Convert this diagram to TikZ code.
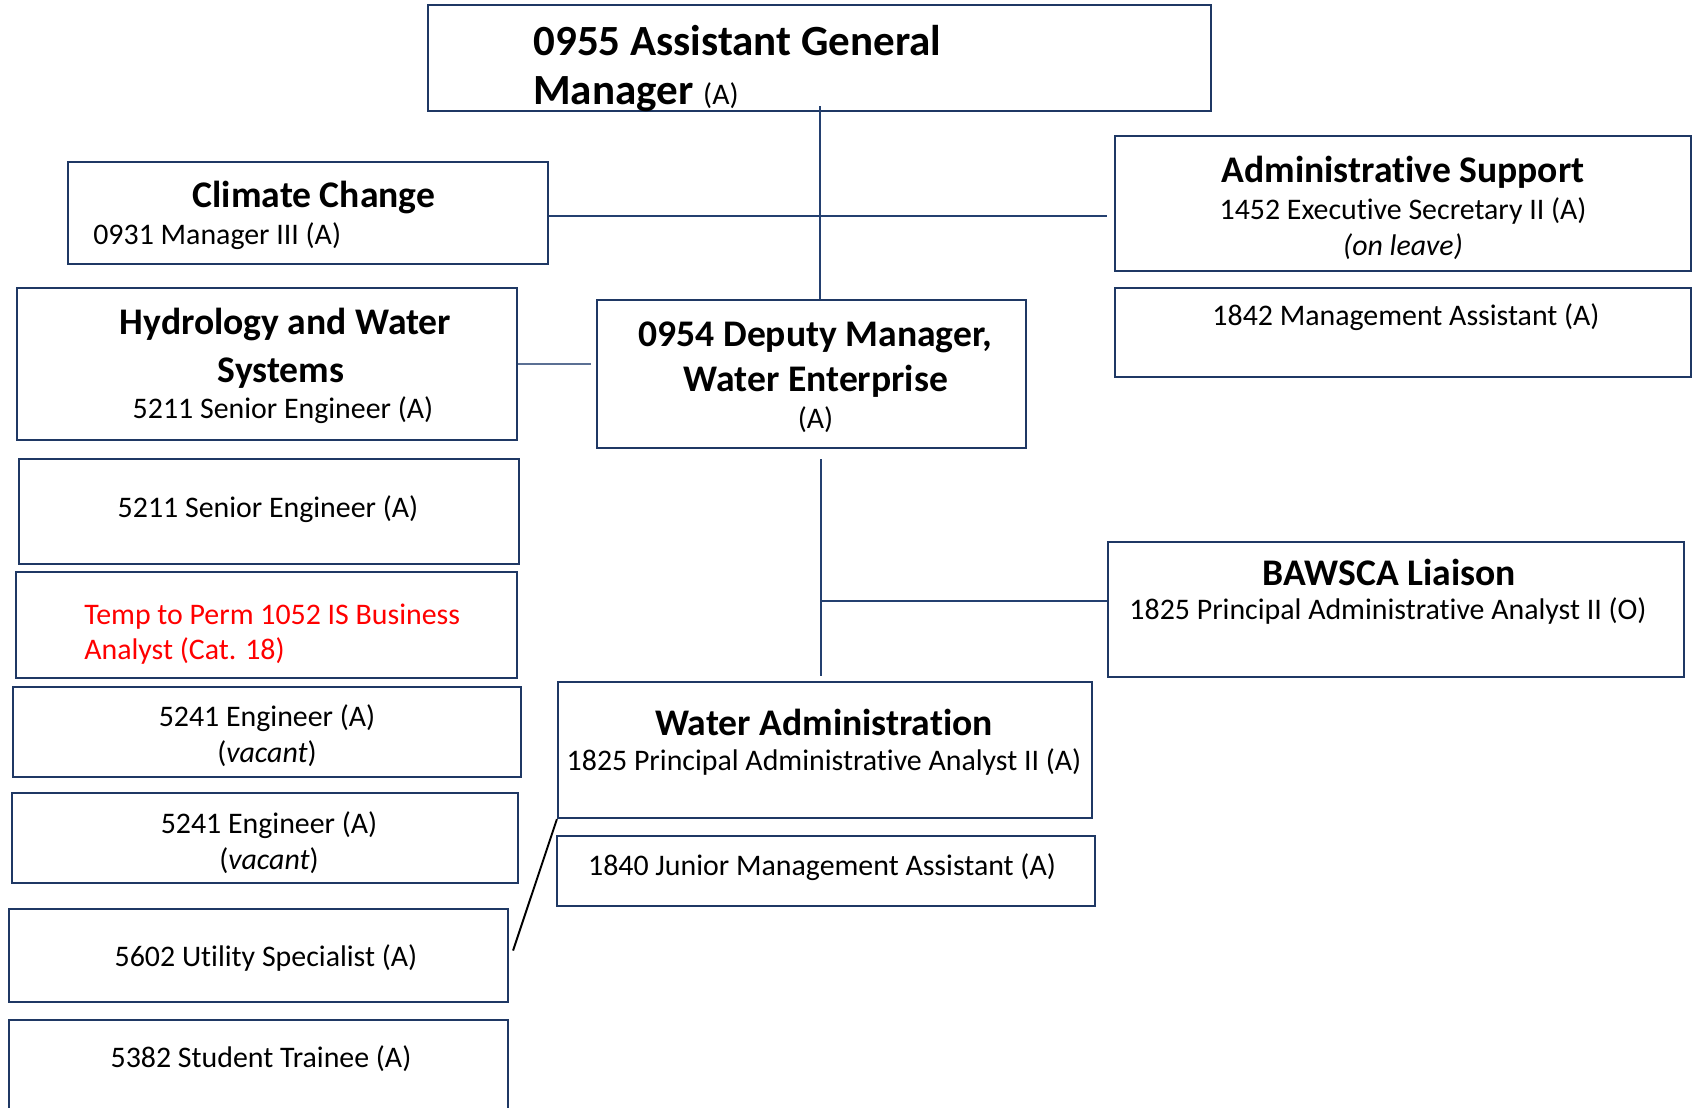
\documentclass[tikz,border=0pt]{standalone}
\usepackage{fontspec}
\setmainfont{Carlito}[Ligatures=NoCommon]
\usetikzlibrary{fit,calc}
\definecolor{navy}{RGB}{31,56,100}
\definecolor{linec}{RGB}{36,64,112}
\begin{document}
\begin{tikzpicture}[x=0.02cm,y=-0.02cm,
  box/.style={draw=navy,line width=1.2pt,inner sep=0pt},
  conn/.style={draw=linec,line width=1.1pt},
  lbl/.style={inner sep=0pt,anchor=base},
  body/.style={lbl,font=\fontsize{17}{20.2}\selectfont},
  head/.style={lbl,font=\fontsize{21.4}{27.6}\selectfont\bfseries},
  ttl/.style={lbl,anchor=base west,font=\fontsize{24.5}{27.6}\selectfont\bfseries}]
\fill[white] (0,0) rectangle (1696,1107);
\useasboundingbox (0,0) rectangle (1696,1107);
\clip (0,0) rectangle (1696,1107);

% boxes
\node[box,fit={(428,5)(1211,111)}] (gm) {};
\node[box,fit={(68,162)(548,264)}] (cc) {};
\node[box,fit={(1115,136)(1691,271)}] (as) {};
\node[box,fit={(1115,288)(1691,377)}] (ma) {};
\node[box,fit={(17,288)(517,440)}] (hy) {};
\node[box,fit={(597,300)(1026,448)}] (dep) {};
\node[box,fit={(1108,542)(1684,677)}] (bw) {};
\node[box,fit={(19,459)(519,564)}] (se) {};
\node[box,fit={(16,572)(517,678)}] (tp) {};
\node[box,fit={(13,687)(521,777)}] (ea) {};
\node[box,fit={(12,793)(518,883)}] (eb) {};
\node[box,fit={(9,909)(508,1002)}] (us) {};
\node[box,fit={(9,1020)(508,1140)}] (st) {};
\node[box,fit={(558,682)(1092,818)}] (wa) {};
\node[box,fit={(557,836)(1095,906)}] (jm) {};

% texts
\node[ttl] (gm1) at (533,55) {0955 Assistant General};
\node[ttl] (gm2) at (533,104) {Manager {\mdseries\fontsize{17}{20}\selectfont(A)}};

\node[head] (cc1) at (314,207) {Climate Change};
\node[body,anchor=base west] (cc2) at (93,244) {0931 Manager III (A)};

\node[head] (as1) at (1403,182.5) {Administrative Support};
\node[body] (as2) at (1403,219) {1452 Executive Secretary II (A)};
\node[body] (as3) at (1403,255) {\itshape (on leave)};

\node[body] (ma1) at (1406,325) {1842 Management Assistant (A)};

\node[head] (hy1) at (285.5,334) {Hydrology and Water};
\node[head] (hy2) at (281,382.5) {Systems};
\node[body] (hy3) at (283,418) {5211 Senior Engineer (A)};

\node[head] (dp1) at (815.5,346) {0954 Deputy Manager,};
\node[head] (dp2) at (816,391) {Water Enterprise};
\node[body] (dp3) at (815.5,428) {(A)};

\node[body] (se1) at (268,517) {5211 Senior Engineer (A)};

\node[body,anchor=base west,text=red] (tp1) at (84,624) {Temp to Perm 1052 IS Business};
\node[body,anchor=base west,text=red] (tp2) at (84,659.5) {Analyst (Cat. 18)};

\node[body] (ea1) at (267,726.5) {5241 Engineer (A)};
\node[body] (ea2) at (267,762) {(\textit{vacant})};
\node[body] (eb1) at (269,833.6) {5241 Engineer (A)};
\node[body] (eb2) at (269,869) {(\textit{vacant})};

\node[body] (us1) at (266,966.6) {5602 Utility Specialist (A)};
\node[body] (st1) at (261,1067) {5382 Student Trainee (A)};

\node[head] (wa1) at (824,735) {Water Administration};
\node[body] (wa2) at (824,770) {1825 Principal Administrative Analyst II (A)};
\node[body] (jm1) at (822,875) {1840 Junior Management Assistant (A)};

\node[head] (bw1) at (1389,585) {BAWSCA Liaison};
\node[body] (bw2) at (1388,619) {1825 Principal Administrative Analyst II (O)};

% connectors
\draw[conn] ($(gm.south)+(0.5,-6)$) -- ($(gm.south |- dep.north)+(0.5,0)$);
\draw[conn] ($(cc.east)+(0,3)$) -- ($(cc.east -| as.west)+(-7,3)$);
\draw[conn,line width=0.6pt,draw=linec!75] (hy.east) -- ($(hy.east -| dep.west)+(-5,0)$);
\draw[conn] ($(dep.south)+(9.5,10)$) -- ($(dep.south |- wa.north)+(9.5,-5)$);
\coordinate (jn) at (821,601);
\draw[conn] (jn) -- (jn -| bw.west);
\draw[black,line width=1.1pt] (wa.south west) -- ($(us.east)+(4,-5)$);
\end{tikzpicture}
\end{document}
